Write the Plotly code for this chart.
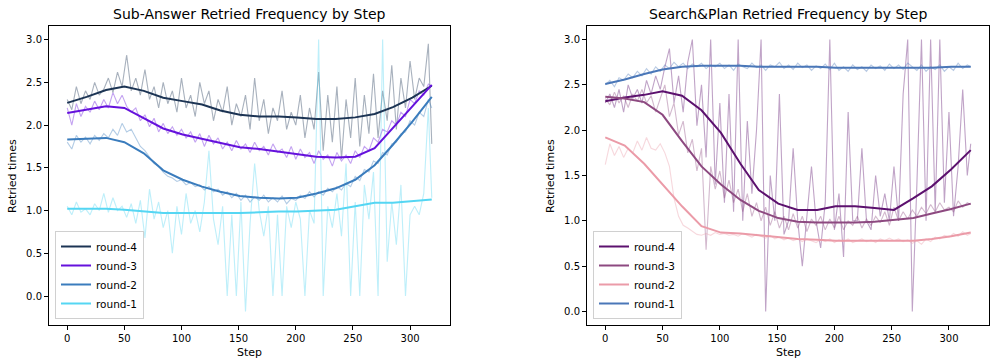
import plotly.graph_objects as go

# ---------------- data ----------------
RAW_STEPS = list(range(0, 317, 4)) + [319]
SMOOTH_STEPS = [0, 17, 34, 50, 67, 84, 101, 118, 134, 151, 168, 185, 201, 218, 235, 252, 269, 285, 302, 319]
SERIES = ["round-4", "round-3", "round-2", "round-1"]

# Sub-Answer (left)
sa_r4_raw = [2.30, 2.18, 2.45, 2.25, 2.40, 2.30, 2.50, 2.35, 2.42, 2.55,
             2.38, 2.62, 2.45, 2.82, 2.40, 2.55, 2.35, 2.65, 2.30, 2.45,
             2.20, 2.50, 2.25, 2.40, 2.15, 2.55, 2.20, 2.35, 2.10, 2.50,
             2.25, 2.40, 2.05, 2.30, 2.15, 2.45, 2.00, 2.25, 2.10, 2.35,
             1.95, 2.55, 2.05, 2.30, 1.90, 2.20, 2.05, 2.40, 1.95, 2.15,
             2.00, 2.35, 1.85, 2.20, 1.95, 2.62, 1.70, 2.35, 1.80, 2.45,
             1.60, 2.30, 1.85, 2.55, 1.75, 2.35, 1.90, 2.60, 1.85, 2.40,
             2.05, 2.70, 1.95, 2.55, 2.20, 2.75, 2.30, 2.55, 2.45, 2.95,
             1.78]
sa_r3_raw = [2.20, 2.00, 2.25, 2.10, 2.22, 2.15, 2.28, 2.18, 2.30, 2.20,
             2.38, 2.25, 2.35, 2.22, 2.15, 2.20, 2.05, 2.12, 1.98, 2.08,
             1.92, 2.02, 1.90, 1.98, 1.88, 1.95, 1.85, 1.92, 1.80, 1.90,
             1.75, 1.88, 1.78, 1.85, 1.72, 1.80, 1.70, 1.82, 1.72, 1.78,
             1.68, 1.80, 1.70, 1.75, 1.65, 1.78, 1.68, 1.72, 1.62, 1.75,
             1.60, 1.72, 1.62, 1.68, 1.55, 1.70, 1.60, 1.65, 1.52, 1.68,
             1.58, 1.65, 1.55, 1.70, 1.62, 1.75, 1.70, 1.85, 1.80, 1.95,
             1.92, 2.05, 2.00, 2.15, 2.10, 2.30, 2.25, 2.40, 2.35, 2.48,
             2.45]
sa_r2_raw = [1.80, 1.72, 1.88, 1.80, 1.86, 1.78, 1.88, 1.82, 1.90, 1.85,
             1.95, 1.88, 2.02, 1.92, 1.95, 1.85, 1.75, 1.70, 1.62, 1.55,
             1.52, 1.45, 1.40, 1.38, 1.34, 1.36, 1.30, 1.33, 1.28, 1.30,
             1.24, 1.28, 1.22, 1.25, 1.18, 1.22, 1.15, 1.20, 1.12, 1.18,
             1.10, 1.16, 1.12, 1.18, 1.10, 1.15, 1.10, 1.17, 1.08, 1.14,
             1.12, 1.18, 1.14, 1.22, 1.16, 1.22, 1.18, 1.26, 1.22, 1.28,
             1.24, 1.32, 1.28, 1.40, 1.35, 1.48, 1.45, 1.58, 1.55, 1.68,
             1.65, 1.78, 1.80, 1.90, 1.92, 2.05, 2.00, 2.15, 2.10, 2.30,
             2.20]
sa_r1_raw = [1.05, 0.95, 1.10, 0.98, 1.02, 0.95, 1.08, 1.00, 1.20, 0.98,
             1.15, 1.00, 1.05, 0.92, 1.08, 0.85, 1.12, 0.68, 1.25, 0.90,
             1.10, 0.80, 1.00, 0.50, 1.05, 0.72, 1.20, 0.85, 1.00, 0.75,
             1.10, 1.70, 0.90, 0.60, 1.05, 0.00, 0.95, 0.00, 1.10, -0.18,
             0.85, 1.55, 1.00, 0.70, 1.05, 0.00, 0.95, 0.00, 1.05, 0.80,
             1.10, 0.90, 0.00, 1.00, 0.85, 3.00, 0.00, 1.05, 0.80, 1.20,
             0.70, 1.55, 0.00, 1.10, 0.00, 1.30, 0.90, 1.45, 0.00, 3.00,
             0.40, 1.10, 0.60, 1.30, 0.00, 0.95, 1.05, 0.95, 1.20, 2.20,
             1.15]
sa_r4_smooth = [2.26, 2.33, 2.41, 2.45, 2.40, 2.32, 2.28, 2.24, 2.17, 2.12,
                2.10, 2.10, 2.09, 2.07, 2.07, 2.09, 2.13, 2.21, 2.32, 2.46]
sa_r3_smooth = [2.14, 2.18, 2.22, 2.20, 2.08, 1.96, 1.89, 1.84, 1.79, 1.74,
                1.72, 1.69, 1.66, 1.63, 1.62, 1.63, 1.73, 1.97, 2.22, 2.47]
sa_r2_smooth = [1.83, 1.84, 1.85, 1.80, 1.67, 1.47, 1.36, 1.28, 1.22, 1.17,
                1.15, 1.14, 1.15, 1.20, 1.26, 1.36, 1.53, 1.77, 2.04, 2.33]
sa_r1_smooth = [1.02, 1.02, 1.02, 1.01, 0.99, 0.97, 0.97, 0.97, 0.97, 0.97,
                0.98, 0.99, 0.99, 1.00, 1.01, 1.05, 1.09, 1.09, 1.11, 1.13]

# Search&Plan (right)
sp_r4_raw = [2.30, 2.40, 2.25, 2.45, 2.20, 2.50, 2.35, 2.45, 2.30, 2.55,
             2.40, 2.60, 2.45, 2.70, 2.90, 2.30, 2.60, 2.20, 2.75, 3.00,
             2.05, 2.50, 1.70, 3.00, 1.40, 2.30, 1.20, 2.40, 1.10, 3.00,
             1.00, 2.10, 1.30, 2.00, 3.00, 0.00, 1.50, 1.00, 2.40, 0.85,
             1.00, 1.80, 1.00, 0.50, 1.05, 1.60, 1.00, 0.70, 1.20, 3.00,
             0.90, 1.30, 0.60, 2.20, 1.00, 1.00, 1.80, 1.00, 0.90, 1.50,
             1.05, 1.30, 1.00, 1.60, 1.00, 2.40, 3.00, 0.00, 1.40, 3.00,
             1.00, 3.00, 1.10, 3.00, 1.20, 2.20, 1.05, 1.60, 2.45, 1.50,
             1.85]
sp_r3_raw = [2.35, 2.28, 2.42, 2.30, 2.38, 2.25, 2.40, 2.32, 2.45, 2.30,
             2.38, 2.20, 2.35, 2.50, 2.15, 2.30, 1.95, 2.10, 1.75, 1.90,
             1.55, 1.80, 0.68, 1.60, 1.35, 1.55, 1.25, 1.45, 1.20, 1.35,
             1.10, 1.30, 1.05, 1.20, 1.00, 1.15, 0.95, 1.10, 0.92, 1.05,
             0.90, 1.08, 0.92, 1.05, 0.88, 1.02, 0.95, 1.05, 0.90, 1.02,
             0.92, 1.05, 0.90, 1.00, 0.95, 1.05, 0.92, 1.02, 0.95, 1.05,
             0.98, 1.10, 0.95, 1.15, 1.00, 1.10, 1.02, 1.12, 1.05, 1.15,
             1.08, 1.18, 1.10, 1.20, 1.12, 1.15, 1.10, 1.22, 1.15, 1.20,
             1.18]
sp_r2_raw = [1.62, 1.85, 1.72, 1.82, 1.70, 1.80, 1.75, 1.88, 1.78, 1.92,
             1.80, 1.78, 1.85, 1.75, 1.60, 1.25, 1.05, 0.95, 0.92, 0.88,
             0.85, 0.84, 0.86, 0.84, 0.87, 0.85, 0.86, 0.84, 0.85, 0.83,
             0.86, 0.84, 0.82, 0.85, 0.83, 0.81, 0.84, 0.80, 0.82, 0.79,
             0.81, 0.78, 0.80, 0.77, 0.80, 0.78, 0.76, 0.79, 0.77, 0.80,
             0.76, 0.79, 0.77, 0.80, 0.76, 0.78, 0.80, 0.77, 0.79, 0.76,
             0.80, 0.78, 0.81, 0.78, 0.80, 0.77, 0.79, 0.75, 0.78, 0.74,
             0.80, 0.77, 0.82, 0.80, 0.84, 0.82, 0.86, 0.83, 0.88, 0.84,
             0.86]
sp_r1_raw = [2.50, 2.55, 2.48, 2.58, 2.55, 2.62, 2.58, 2.65, 2.60, 2.68,
             2.62, 2.70, 2.65, 2.72, 2.68, 2.75, 2.70, 2.74, 2.68, 2.73,
             2.70, 2.74, 2.68, 2.72, 2.70, 2.74, 2.68, 2.72, 2.66, 2.73,
             2.70, 2.68, 2.74, 2.69, 2.72, 2.66, 2.72, 2.70, 2.75, 2.68,
             2.72, 2.67, 2.74, 2.69, 2.72, 2.66, 2.71, 2.68, 2.73, 2.67,
             2.74, 2.66, 2.70, 2.65, 2.72, 2.67, 2.70, 2.65, 2.72, 2.68,
             2.71, 2.66, 2.73, 2.68, 2.72, 2.67, 2.74, 2.70, 2.66, 2.72,
             2.65, 2.70, 2.67, 2.72, 2.65, 2.70, 2.66, 2.74, 2.68, 2.72,
             2.70]
sp_r4_smooth = [2.32, 2.36, 2.39, 2.43, 2.38, 2.22, 1.97, 1.63, 1.34, 1.19,
                1.12, 1.12, 1.16, 1.16, 1.14, 1.12, 1.25, 1.38, 1.57, 1.78]
sp_r3_smooth = [2.37, 2.35, 2.31, 2.17, 1.88, 1.60, 1.40, 1.23, 1.11, 1.03,
                0.99, 0.98, 0.98, 0.98, 0.99, 1.01, 1.03, 1.08, 1.13, 1.19]
sp_r2_smooth = [1.92, 1.83, 1.63, 1.40, 1.16, 0.94, 0.87, 0.86, 0.84, 0.82,
                0.80, 0.79, 0.78, 0.78, 0.78, 0.78, 0.78, 0.80, 0.83, 0.87]
sp_r1_smooth = [2.51, 2.56, 2.62, 2.67, 2.70, 2.71, 2.71, 2.71, 2.70, 2.70,
                2.70, 2.70, 2.69, 2.69, 2.69, 2.69, 2.69, 2.69, 2.70, 2.70]

Y_TICKS = [0.0, 0.5, 1.0, 1.5, 2.0, 2.5, 3.0]
X_TICKS = [0, 50, 100, 150, 200, 250, 300]

# ---------------- style ----------------
SA_COLORS = ["#1c3454", "#6511dc", "#3a7cbd", "#55d6f3"]
SP_COLORS = ["#5c116e", "#8d4980", "#eb9ba8", "#4a77b8"]
FONT = "DejaVu Sans"

fig = go.Figure()

panels = [
    ("x", "y", "legend", SA_COLORS,
     [sa_r4_raw, sa_r3_raw, sa_r2_raw, sa_r1_raw],
     [sa_r4_smooth, sa_r3_smooth, sa_r2_smooth, sa_r1_smooth]),
    ("x2", "y2", "legend2", SP_COLORS,
     [sp_r4_raw, sp_r3_raw, sp_r2_raw, sp_r1_raw],
     [sp_r4_smooth, sp_r3_smooth, sp_r2_smooth, sp_r1_smooth]),
]

for xa, ya, leg, colors, raws, smooths in panels:
    for name, col, raw in zip(SERIES, colors, raws):
        fig.add_trace(go.Scatter(x=RAW_STEPS, y=raw, mode="lines", xaxis=xa, yaxis=ya,
                                 line=dict(color=col, width=1.1), opacity=0.38,
                                 showlegend=False, hoverinfo="skip"))
    for name, col, sm in zip(SERIES, colors, smooths):
        fig.add_trace(go.Scatter(x=SMOOTH_STEPS, y=sm, mode="lines", xaxis=xa, yaxis=ya,
                                 line=dict(color=col, width=2), name=name, legend=leg))

W, H = 994, 360
def px(x): return x / W
def py(y): return (H - y) / H

axis_common = dict(showgrid=False, zeroline=False, showline=True, mirror=True,
                   linecolor="black", linewidth=1, ticks="outside", ticklen=4,
                   tickwidth=1, tickcolor="black", automargin=False,
                   tickfont=dict(family=FONT, size=10, color="black"))

legend_common = dict(xanchor="left", yanchor="bottom", bgcolor="white",
                     bordercolor="#d0d0d0", borderwidth=1, tracegroupgap=0,
                     itemwidth=30,
                     font=dict(family=FONT, size=10.5, color="black"))

def ann(text, x, y, size, angle=0):
    return dict(text=text, x=px(x), y=py(y), xref="paper", yref="paper", showarrow=False,
                xanchor="center", yanchor="middle", textangle=angle,
                font=dict(family=FONT, size=size, color="black"))

fig.update_layout(
    width=W, height=H, margin=dict(l=0, r=0, t=0, b=0),
    paper_bgcolor="white", plot_bgcolor="white", template="none",
    font=dict(family=FONT, size=10, color="black"),
    xaxis=dict(domain=[px(49), px(450)], range=[-15.95, 334.95], tickvals=X_TICKS,
               anchor="y", **axis_common),
    yaxis=dict(domain=[py(325), py(26)], range=[-0.339, 3.159], tickvals=Y_TICKS,
               ticktext=[f"{v:.1f}" for v in Y_TICKS], anchor="x", **axis_common),
    xaxis2=dict(domain=[px(587), px(989)], range=[-15.95, 334.95], tickvals=X_TICKS,
                anchor="y2", **axis_common),
    yaxis2=dict(domain=[py(325), py(26)], range=[-0.15, 3.15], tickvals=Y_TICKS,
                ticktext=[f"{v:.1f}" for v in Y_TICKS], anchor="x2", **axis_common),
    legend=dict(x=px(55), y=py(319), **legend_common),
    legend2=dict(x=px(593), y=py(319), **legend_common),
    annotations=[
        ann("Sub-Answer Retried Frequency by Step", 249.5, 14, 14),
        ann("Search&Plan Retried Frequency by Step", 788, 14, 14),
        ann("Step", 249.5, 352, 11),
        ann("Step", 788, 352, 11),
        ann("Retried times", 12, 176, 11, -90),
        ann("Retried times", 550, 176, 11, -90),
    ],
)

fig.write_html("out.html", config={"displayModeBar": False})

# remove the default page margin so the 994x360 figure fills the window exactly
with open("out.html", "r", encoding="utf-8") as f:
    html = f.read()
html = html.replace("<head>", "<head><style>html,body{margin:0;padding:0;overflow:hidden;}</style>", 1)
with open("out.html", "w", encoding="utf-8") as f:
    f.write(html)
